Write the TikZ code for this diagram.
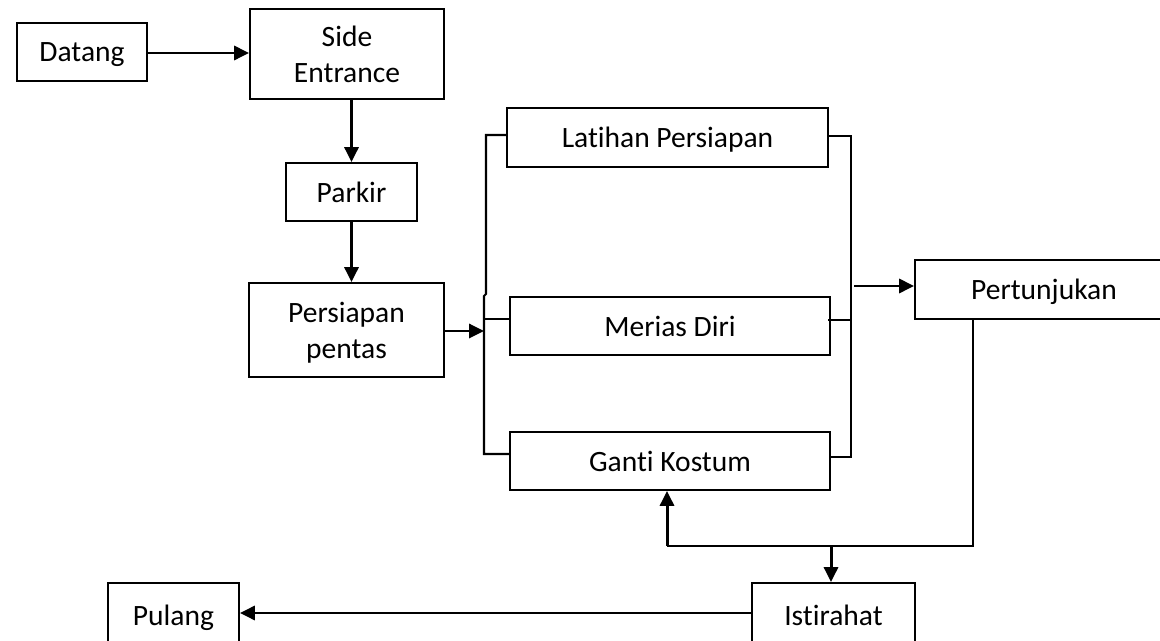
\documentclass[tikz,border=0pt]{standalone}
\usepackage{fontspec}
\setmainfont{Carlito}[Ligatures=NoCommon]
\usetikzlibrary{arrows.meta,calc}

\tikzset{
  box/.style={draw, line width=1.1pt, inner sep=0pt, align=center, text depth=0pt,
              font=\fontsize{16.8}{20.5}\selectfont},
  link/.style={line width=1.2pt},
  arrow/.style={line width=1.7pt, -{Triangle[length=8.5pt,width=8pt]}},
}

\begin{document}
\begin{tikzpicture}[x=0.02cm, y=-0.02cm]
  \useasboundingbox (0,0) rectangle (1160,641);
  \clip (0,0) rectangle (1160,641);

  % process boxes
  \node[box, minimum width=2.6cm,  minimum height=1.16cm] (datang)     at (82,52)      {Datang};
  \node[box, minimum width=3.88cm, minimum height=1.8cm]  (side)       at (347,54)     {Side\\Entrance};
  \node[box, minimum width=2.62cm, minimum height=1.16cm] (parkir)     at (351.5,192)  {Parkir};
  \node[box, minimum width=3.9cm,  minimum height=1.88cm] (persiapan)  at (346.5,330)  {Persiapan\\pentas};
  \node[box, minimum width=6.42cm, minimum height=1.18cm] (latihan)    at (667.5,137.5){Latihan Persiapan};
  \node[box, minimum width=6.4cm,  minimum height=1.16cm] (merias)     at (670,326)    {Merias Diri};
  \node[box, minimum width=6.4cm,  minimum height=1.16cm] (ganti)      at (670,461)    {Ganti Kostum};
  \node[box, minimum width=5.16cm, minimum height=1.18cm] (pertunjukan) at (1044,289.5){Pertunjukan};
  \node[box, minimum width=3.26cm, minimum height=1.28cm] (istirahat)  at (833.5,615)  {Istirahat};
  \node[box, minimum width=2.62cm, minimum height=1.28cm] (pulang)     at (173.5,615)  {Pulang};

  % bracket and junction points
  \coordinate (lbTop) at (486,135);
  \coordinate (lbMid) at (486,294);
  \coordinate (lbJog) at (484,296);
  \coordinate (lbBot) at (484,454);
  \coordinate (lbIn)  at (484,331);
  \coordinate (rbTop) at (851,136);
  \coordinate (rbBot) at (851,457);
  \coordinate (rbOut) at (854,286);
  \coordinate (pDown) at (973,319);
  \coordinate (pTurn) at (973,546);
  \coordinate (gTurn) at (667,546);
  \coordinate (iTurn) at (831,546);

  % main chain
  \draw[arrow] (datang.east |- 0,53) -- (side.west |- 0,53);
  \draw[arrow] (parkir.north |- side.south) -- (parkir.north);
  \draw[arrow] (parkir.south) -- (parkir.south |- persiapan.north);
  \draw[arrow] (persiapan.east |- lbIn) -- (lbIn);

  % left bracket
  \draw[link] (latihan.west |- lbTop) -- (lbTop) -- (lbMid) -- (lbJog) -- (lbBot) -- (ganti.west |- lbBot);
  \draw[link] (484,319) -- (merias.west |- 0,319);

  % right bracket
  \draw[link] (latihan.east |- rbTop) -- (rbTop) -- (rbBot) -- (ganti.east |- rbBot);
  \draw[link] (828,320) -- (851,320);
  \draw[arrow] (rbOut) -- (pertunjukan.west |- rbOut);

  % return path
  \draw[link, line width=1.4pt] (pDown) -- (pTurn) -- (gTurn);
  \draw[arrow] (gTurn) -- (gTurn |- ganti.south);
  \draw[arrow] (iTurn) -- (iTurn |- istirahat.north);
  \draw[arrow] (istirahat.west |- 0,613) -- (pulang.east |- 0,613);
\end{tikzpicture}
\end{document}
